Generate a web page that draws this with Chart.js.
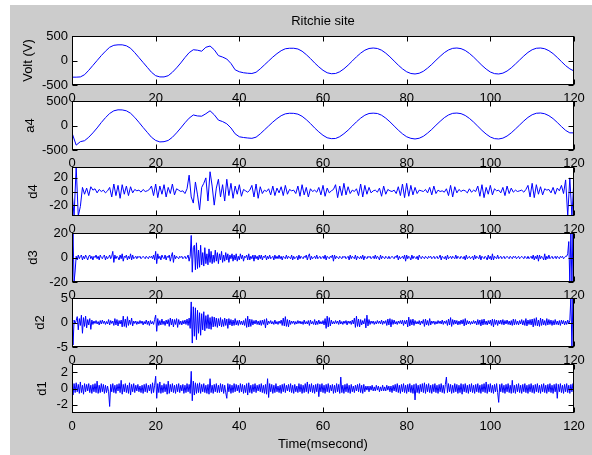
<!DOCTYPE html>
<html>
<head>
<meta charset="utf-8">
<script src="https://cdn.jsdelivr.net/npm/chart.js@4/dist/chart.umd.min.js"></script>
<style>
  body { margin: 0; background: #fff; width: 592px; height: 455px; overflow: hidden; position: relative; }
  #fig { position: absolute; left: 10px; top: 5px; width: 582px; height: 450px; background: #cccccc; }
  canvas { position: absolute; left: 10px; }
</style>
</head>
<body>
<div id="fig"></div>
<canvas id="c1" width="582" height="101" style="top:8px"></canvas>
<canvas id="c2" width="582" height="81" style="top:93px"></canvas>
<canvas id="c3" width="582" height="81" style="top:159px"></canvas>
<canvas id="c4" width="582" height="81" style="top:225px"></canvas>
<canvas id="c5" width="582" height="81" style="top:290px"></canvas>
<canvas id="c6" width="582" height="99" style="top:356px"></canvas>
<script>
// --- Datos ---
const xTicks = [0, 20, 40, 60, 80, 100, 120];

// muestreo (ms) de cada serie
const stepSine = 1;
const stepD4 = 0.5;
const stepFine = 0.25;

const voltValues = [
  -340, -340, -335, -290, -200, -100, 0, 100, 190, 270,
  310, 320, 320, 300, 250, 160, 60, -40, -140, -240,
  -310, -335, -335, -310, -240, -150, -50, 60, 160, 220,
  210, 190, 270, 295, 220, 100, 70, 30, -60, -190,
  -230, -250, -260, -265, -240, -170, -90, -10, 70, 140,
  200, 240, 250, 250, 235, 190, 120, 40, -50, -130,
  -200, -250, -270, -265, -230, -170, -95, -10, 75, 150,
  210, 245, 255, 245, 210, 150, 75, -10, -95, -170,
  -230, -265, -275, -260, -220, -155, -80, 5, 85, 160,
  215, 248, 255, 242, 205, 145, 70, -15, -100, -175,
  -235, -268, -275, -258, -215, -150, -72, 10, 92, 165,
  220, 250, 255, 240, 200, 140, 62, -22, -105, -170,
  -215
];

const a4Values = [
  -150, -400, -330, -310, -240, -150, -50, 60, 160, 245,
  300, 320, 318, 300, 250, 165, 65, -40, -140, -240,
  -305, -335, -330, -305, -240, -150, -50, 55, 150, 215,
  195, 190, 240, 300, 220, 110, 80, 35, -50, -170,
  -230, -245, -255, -262, -238, -170, -90, -10, 70, 140,
  200, 238, 250, 248, 232, 188, 120, 40, -50, -130,
  -200, -250, -268, -265, -228, -168, -95, -10, 75, 150,
  210, 245, 252, 245, 210, 150, 75, -10, -95, -170,
  -230, -262, -275, -260, -220, -155, -80, 5, 85, 160,
  215, 248, 254, 242, 205, 145, 70, -15, -100, -175,
  -235, -268, -275, -258, -215, -150, -72, 10, 92, 165,
  220, 250, 255, 240, 200, 140, 62, -22, -100, -150,
  -150
];

const d4Values = [
  0, -36, 36, -36, -22, 6, -4, 5, -6, 7,
  2, 4, -2, 3, 0, 2, -2, 1, 6, -8,
  11, -6, 9, -10, 10, -4, 8, -6, 7, -2,
  3, 1, 2, -1, 3, 0, 1, 3, 8, -6,
  11, -9, 8, -4, 10, -8, 6, -3, 11, -5,
  4, 2, 0, 1, -3, 4, 24, -8, -17, 14,
  -5, -27, 6, 12, 20, -14, 29, 8, -20, 5,
  18, -8, 10, -14, 18, -6, 12, -10, 8, -4,
  10, -7, 3, 1, -1, 2, 9, -8, 11, -10,
  7, -3, 2, 0, 4, -5, 8, -6, 5, -2,
  7, -6, 9, -4, 3, 1, 2, -3, 8, -7,
  10, -5, 6, -8, 4, 0, 2, -1, 6, -5,
  9, -7, 5, -2, 1, 3, 10, -9, 8, -6,
  12, -5, 7, -3, 2, 0, 4, -6, 11, -8,
  9, -4, 6, -2, 1, 2, -1, 5, -7, 8,
  -4, 3, 1, 0, 2, -3, 7, -6, 11, -9,
  12, -7, 9, -5, 6, -3, 2, 1, 0, 3,
  -2, 6, -5, 8, -3, 2, 0, 1, -1, 4,
  -6, 9, -8, 7, -2, 3, 0, 2, 1, -2,
  4, -1, 2, 0, 8, -7, 10, -9, 6, -4,
  9, -5, 4, 1, 2, -2, 6, -6, 8, -3,
  5, -1, 2, 0, 1, 2, -1, 3, 9, -8,
  12, -9, 10, -4, 7, -5, 4, 2, 3, -2,
  6, -4, 5, 1, 9, -3, 17, -36, 20, -36,
  20
];

const d3Values = [
  0, 20, -20, -11, 1, -2, 2, -1, 1, 2, -2, 1, -1, 2, 0, -2, 1, 2, -1, 1,
  -2, 1, 0, 2, -1, 1, -2, 2, 0, -1, 1, 2, -2, 1, -1, 0, 2, -1, 1, 5,
  -4, 2, -1, 1, 0, -2, 2, -1, 3, -3, 1, 0, 2, -2, 1, -1, 3, -2, 2, -1,
  0, 1, -1, 1, 0, 1, -1, 0, 1, 0, -1, 1, 0, -1, 1, 0, 1, -1, 2, -2,
  5, -5, 3, -1, 1, -2, 2, 0, -1, 2, -2, 1, 0, 2, -3, 1, 4, -4, 2, -1,
  1, 0, -1, 1, 0, 1, -1, 0, 1, -1, 0, 2, -3, 1, 18, -12, 8, 10, -10, 12,
  -9, 6, -8, 10, -6, 4, -7, 8, -5, 3, -6, 7, -4, 5, -5, 2, -4, 6, -3, 4,
  -5, 3, -2, 5, -4, 2, -3, 4, -2, 3, -4, 2, -1, 3, -3, 2, -2, 3, -3, 1,
  -2, 3, -1, 2, -3, 1, 0, 2, -2, 3, -2, 1, -1, 2, -3, 2, -1, 1, -2, 2,
  -1, 2, -2, 1, 0, 2, -2, 1, -1, 2, -1, 0, 1, -2, 2, -1, 1, -1, 2, -1,
  1, -2, 1, 0, -1, 2, -1, 1, 0, -1, 2, -2, 1, -1, 0, 1, -2, 2, -1, 1,
  0, -1, 1, 0, 2, -2, 1, 3, -2, 1, -1, 0, 1, -1, 2, -1, 0, 1, -1, 0,
  1, -1, 2, -2, 1, 0, -1, 1, 0, 2, -3, 2, -1, 1, 0, -1, 1, 0, -1, 1,
  0, 1, -1, 0, 1, -2, 2, -1, 1, 0, -1, 2, -2, 1, 0, -1, 1, -1, 2, -2,
  1, 0, -1, 1, 0, 1, -1, 0, 1, -1, 2, -1, 1, 0, -2, 2, -1, 1, 0, -1,
  1, 0, -1, 1, -1, 0, 1, 0, -1, 1, 0, 2, -2, 1, -1, 0, 1, -1, 2, -3,
  2, -1, 1, 0, -2, 2, -1, 1, 0, -1, 1, -2, 2, 0, -1, 1, 0, -1, 1, 0,
  -1, 1, 0, 1, -1, 0, 1, -1, 0, 1, -1, 0, 2, -2, 1, 0, -1, 1, -2, 2,
  -1, 0, 1, -1, 1, 0, -1, 2, -1, 1, 0, -1, 1, 0, -1, 1, -2, 2, -1, 0,
  1, -1, 0, 1, -2, 2, -1, 1, 0, -1, 2, -2, 1, 0, -1, 1, 0, -2, 2, -1,
  1, -2, 3, -2, 1, 0, -1, 2, -1, 0, 1, -1, 0, 1, -1, 0, 1, 0, -1, 1,
  0, -1, 1, 0, 1, -1, 0, 1, -1, 0, 1, 0, -1, 1, 0, -1, 1, -1, 0, 1,
  -1, 2, -2, 1, -1, 2, -3, 2, -1, 1, 0, -2, 3, -2, 1, -1, 2, -1, 0, 1,
  -1, 0, 1, -1, 1, 0, -1, 1, 0, 1, -1, 0, 1, 1, 3, 13, -20, 20, -20, 20,
  -20
];

const d2Values = [
  5, -4.6, 0.5, -0.3, 0.4, 1.2, -1.5, 0.8, -0.6, 1.5, -2.2, 1.0, -0.8, 1.3, -1.1, 0.6, -0.5, 0.8, -1.4, 0.5,
  -0.4, 0.3, -0.2, 0.4, -0.3, 0.2, -0.5, 0.4, -0.3, 0.5, -0.2, 0.3, -0.4, 0.2, -0.3, 0.6, -0.5, 0.4, -0.2, 0.3,
  -0.6, 0.8, -0.5, 0.6, -0.7, 0.4, -0.3, 0.5, -0.9, 1.3, -0.8, 0.7, -1.0, 1.2, -0.6, 0.5, -0.4, 0.9, -0.7, 0.3,
  -0.2, 0.3, -0.4, 0.2, -0.3, 0.4, -0.2, 0.3, -0.5, 0.2, -0.3, 0.5, -0.4, 0.3, -0.6, 0.4, -0.3, 0.2, -0.4, 0.6,
  1.5, -1.8, 0.8, -0.6, 0.4, -0.5, 0.7, -0.4, 0.3, -0.6, 0.5, -0.3, 0.6, -0.8, 0.9, -0.5, 0.7, -0.9, 0.6, -0.4,
  0.8, -1.0, 0.6, -0.4, 0.3, -0.5, 0.4, -0.3, 0.5, -0.4, 0.7, -0.6, 0.9, -1.2, 4.2, -4.2, 3.2, -2.8, 3.0, -3.5,
  2.5, -2.2, 2.0, -2.6, 1.8, -1.5, 2.2, -1.7, 1.4, -1.2, 1.6, -1.3, 1.0, -1.4, 1.2, -0.9, 1.1, -0.8, 0.9, -1.0,
  0.8, -0.7, 1.0, -0.9, 0.6, -0.8, 0.9, -0.6, 0.7, -1.2, 0.8, -0.5, 0.6, -0.7, 0.5, -0.6, 0.8, -0.5, 0.4, -0.6,
  0.5, -0.4, 0.3, -0.5, 0.4, -0.6, 0.8, -1.0, 1.3, -0.9, 0.7, -0.8, 0.6, -0.5, 0.4, -0.3, 0.5, -0.4, 0.3, -0.5,
  0.4, -0.6, 0.5, -0.4, 0.6, -1.1, 0.8, -0.5, 0.3, -0.2, 0.4, -0.3, 0.2, -0.4, 0.5, -0.3, 0.2, -0.4, 0.3, -0.2,
  0.5, -0.6, 0.9, -0.7, 1.2, -0.8, 0.6, -0.9, 0.5, -0.4, 0.3, -0.2, 0.3, -0.4, 0.2, -0.3, 0.4, -0.2, 0.3, -0.3,
  0.2, -0.4, 0.5, -0.3, 0.2, -0.3, 0.4, -0.6, 0.5, -0.3, 0.2, -0.4, 0.6, -0.5, 0.3, -0.4, 0.5, -0.3, 0.2, -0.3,
  0.4, -0.5, 0.8, -1.2, 1.3, -0.9, 1.0, -0.7, 0.5, -0.3, 0.2, -0.3, 0.4, -0.2, 0.3, -0.4, 0.5, -0.3, 0.2, -0.4,
  0.3, -0.2, 0.4, -0.5, 0.3, -0.2, 0.3, -0.4, 0.5, -0.3, 0.9, -1.0, 1.3, -0.8, 0.7, -0.9, 0.6, -0.5, 0.4, -0.3,
  0.8, -1.1, 1.5, -0.7, 0.6, -0.4, 0.3, -0.2, 0.3, -0.4, 0.2, -0.3, 0.4, -0.2, 0.3, -0.3, 0.5, -0.4, 0.3, -0.2,
  0.4, -0.6, 0.7, -0.5, 0.8, -0.9, 0.6, -0.4, 0.5, -0.3, 0.2, -0.4, 0.3, -0.2, 0.4, -0.3, 0.5, -0.6, 0.4, -0.3,
  0.5, -0.9, 1.1, -0.7, 0.6, -0.5, 0.7, -0.6, 0.4, -0.3, 0.2, -0.3, 0.4, -0.5, 0.3, -0.2, 0.6, -0.8, 0.7, -0.5,
  0.4, -0.6, 0.8, -0.5, 0.3, -0.2, 0.3, -0.4, 0.2, -0.3, 0.4, -0.2, 0.3, -0.3, 0.5, -0.4, 0.3, -0.2, 0.4, -0.6,
  0.7, -0.5, 1.0, -0.8, 0.6, -0.4, 0.5, -0.3, 0.4, -0.5, 0.3, -0.4, 0.5, -0.3, 0.6, -0.7, 0.8, -0.5, 0.4, -0.3,
  0.3, -0.4, 0.2, -0.3, 0.4, -0.2, 0.3, -0.5, 0.6, -0.4, 0.5, -0.7, 0.6, -0.5, 0.7, -0.4, 0.3, -0.5, 0.4, -0.3,
  0.5, -0.6, 0.7, -0.9, 0.6, -0.4, 0.5, -0.6, 0.4, -0.3, 0.5, -0.4, 0.6, -0.5, 0.4, -0.3, 0.5, -0.4, 0.3, -0.5,
  0.4, -0.6, 0.7, -0.5, 0.6, -0.4, 0.3, -0.5, 0.4, -0.3, 0.6, -0.5, 0.4, -0.6, 0.8, -0.7, 0.5, -0.4, 0.6, -0.5,
  0.7, -0.9, 0.8, -0.6, 1.0, -0.7, 0.5, -0.8, 0.9, -0.6, 0.7, -0.5, 0.4, -0.6, 0.8, -0.5, 0.6, -0.4, 0.5, -0.6,
  0.4, -0.5, 0.6, -0.4, 0.3, -0.5, 0.4, -0.6, 0.5, -0.3, 0.4, -0.5, 0.3, -0.4, 0.5, -0.3, 0.4, 5, -5, 5,
  -5
];

const d1Values = [
  2.2, -0.8, 0.6, -0.5, 0.7, -0.4, 0.5, -0.6, 0.8, -0.5, 0.4, -0.7, 0.6, -0.4, 0.5, -0.3, 0.6, -0.5, 0.4, -0.6,
  0.5, -0.4, 0.6, -0.5, 0.9, -0.6, 0.4, -0.5, 0.6, -0.4, 0.5, -0.6, 0.4, -0.5, 0.3, -0.4, -2.2, 0.5, -0.4, 0.6,
  -0.5, 0.4, -0.6, 0.5, -0.3, 0.6, -0.5, 1.0, -0.7, 0.5, -0.4, 0.6, -0.5, 0.4, -0.6, 0.7, -0.8, 0.5, -0.4, 0.6,
  -0.5, 0.4, -0.3, 0.5, -0.4, 0.3, -0.5, 0.4, -0.6, 0.5, -0.4, 0.6, -0.5, 0.4, -0.3, 0.5, -0.6, 0.7, -0.5, 0.4,
  1.5, -1.2, 0.6, -0.5, 0.8, -0.6, 0.4, -0.5, 0.6, -0.4, 0.5, -0.7, 0.9, -0.6, 0.5, -0.4, 0.6, -0.5, 0.4, -0.6,
  0.5, -0.4, 0.6, -0.5, 0.4, -0.3, 0.5, -0.6, 0.4, -0.5, 0.6, -0.4, 0.5, -0.6, 2.1, -1.5, 0.9, -0.8, 0.7, -0.6,
  0.6, -0.5, 0.7, -0.6, 0.5, -0.4, 0.6, -0.5, 0.4, -0.6, 0.5, -0.7, 1.2, -0.5, 0.4, -0.6, 0.5, -0.4, 0.6, -0.5,
  0.4, -0.5, 0.6, -0.4, 0.5, -0.6, 0.4, -0.5, -1.2, 0.6, -0.4, 0.5, -0.6, 0.4, -0.5, 0.6, -0.4, 0.5, -0.3, 0.4,
  -0.5, 0.6, -0.4, 0.5, -0.6, 0.4, -0.5, 0.6, -0.8, 0.7, -0.5, 0.4, -0.6, 0.5, -0.4, 0.6, -0.5, 0.4, -0.3, 0.5,
  -0.4, 0.6, -0.5, 0.4, -0.6, 0.5, -0.7, 1.2, -1.1, 0.6, -0.4, 0.5, -0.6, 0.4, -0.5, 0.6, -0.4, 0.3, -0.5, 0.4,
  -0.6, 0.5, -0.4, 0.6, -0.5, 0.4, -0.3, 0.5, -0.4, 0.6, -0.5, 0.4, -0.6, 0.5, -0.4, 0.3, -0.5, 0.6, -0.4, 0.5,
  -0.6, 0.4, -0.5, 0.6, -0.4, 0.8, -0.6, 0.5, -0.4, 0.6, -0.5, 0.4, -0.6, 0.5, -0.4, 0.6, -1.0, 0.5, -0.4, 0.6,
  -0.5, 0.4, -0.6, 0.5, -0.4, 0.6, -0.5, 0.4, -0.3, 0.5, -0.6, 0.4, -0.5, 0.6, -0.4, 0.5, -0.6, 1.4, -0.5, 0.4,
  -0.6, 0.5, -0.4, 0.6, -0.5, 0.4, -0.6, 0.5, -0.4, 0.3, -0.5, 0.4, -0.3, 0.5, -0.4, 0.6, -0.5, 0.4, -0.6, 0.5,
  -0.4, 0.3, -0.2, 0.3, -0.4, 0.3, -0.2, 0.4, -0.3, 0.2, -0.3, 0.4, -0.2, 0.3, -0.4, 0.2, -0.3, 0.4, -0.3, 0.2,
  -0.3, 0.4, -0.2, 0.3, -0.4, 0.3, -0.5, 0.4, -0.3, 0.5, -0.4, 0.6, -0.5, 0.4, -0.6, 0.5, -0.4, 0.6, -0.5, 0.4,
  -0.6, 0.5, -0.4, 0.6, -0.5, 0.4, -0.6, 0.5, -1.4, 0.6, -0.5, 0.4, -0.6, 0.5, -0.4, 0.6, -0.5, 0.7, -0.6, 0.5,
  -0.4, 0.6, -0.5, 0.4, -0.6, 0.5, -0.4, 0.6, -0.5, 0.4, -0.6, 0.5, -0.4, 0.6, -0.5, 0.4, -0.6, 0.5, 1.4, -0.5,
  0.6, -0.4, 0.5, -0.6, 0.4, -0.5, 0.6, -0.4, 0.5, -0.6, 0.4, -0.5, 0.6, -0.7, 0.5, -0.4, 0.6, -0.5, 0.4, -0.6,
  0.5, -0.4, 0.6, -0.5, 0.4, -0.6, 0.5, -0.4, 0.6, -0.5, 0.4, -0.6, 0.5, -0.4, 0.6, -0.5, 0.8, -0.6, 0.5, -0.4,
  0.6, -0.5, 0.4, -0.6, 0.5, -0.4, 0.6, -0.5, -1.7, 0.5, -0.4, 0.6, -0.5, 0.4, -0.6, 0.5, -0.4, 0.6, -0.5, 0.4,
  -0.6, 1.0, -0.5, 0.4, -0.6, 0.5, -0.4, 0.6, -0.5, 0.4, -0.6, 0.5, -0.4, 0.6, -0.5, 0.4, -0.6, 0.5, -0.4, 0.6,
  -0.5, 0.4, -0.6, 0.5, -0.4, 0.6, -0.5, 0.4, -0.6, 0.5, -0.4, 0.6, -0.5, 0.4, -0.6, 0.5, -0.4, 0.6, -0.5, 0.4,
  -0.6, 0.5, -0.4, 0.6, -1.2, 0.5, -0.4, 0.6, -0.5, 0.4, -0.6, 0.5, -0.4, 0.6, -0.5, 0.4, -0.6, 0.5, -0.4, 0.6,
  -0.5
];

// etiquetas y ticks de cada eje Y
const yLabels = ['Volt (V)', 'a4', 'd4', 'd3', 'd2', 'd1'];
const yTickSets = [[-500, 0, 500], [-500, 0, 500], [-20, 0, 20], [-20, 0, 20], [-5, 0, 5], [-2, 0, 2]];
const yLimits = [[-500, 500], [-500, 500], [-36, 36], [-20, 20], [-5, 5], [-3, 3]];

// --- Estilo ---
const FONT = { family: "Arial, 'Liberation Sans', Helvetica, sans-serif", size: 13 };
const TICK_LEN = 5;

// fondo blanco, caja completa y ticks hacia dentro (estilo MATLAB)
const boxPlugin = {
  id: 'matlabBox',
  beforeDraw(chart) {
    const { ctx, chartArea: a } = chart;
    ctx.save();
    ctx.fillStyle = '#fff';
    ctx.fillRect(a.left, a.top, a.right - a.left, a.bottom - a.top);
    ctx.restore();
  },
  afterDatasetsDraw(chart) {
    const { ctx, chartArea: a, scales } = chart;
    const L = Math.round(a.left) + 0.5, R = Math.round(a.right) - 0.5;
    const T = Math.round(a.top) + 0.5, B = Math.round(a.bottom) - 0.5;
    ctx.save();
    ctx.strokeStyle = '#000';
    ctx.lineWidth = 1;
    ctx.beginPath();
    scales.x.ticks.forEach(t => {
      const px = Math.round(scales.x.getPixelForValue(t.value)) + 0.5;
      ctx.moveTo(px, B); ctx.lineTo(px, B - TICK_LEN);
      ctx.moveTo(px, T); ctx.lineTo(px, T + TICK_LEN);
    });
    scales.y.ticks.forEach(t => {
      const py = Math.round(scales.y.getPixelForValue(t.value)) + 0.5;
      ctx.moveTo(L, py); ctx.lineTo(L + TICK_LEN, py);
      ctx.moveTo(R, py); ctx.lineTo(R - TICK_LEN, py);
    });
    ctx.stroke();
    ctx.strokeRect(L, T, R - L, B - T);
    ctx.restore();
  }
};

const toPoints = (values, step) => values.map((v, i) => ({ x: i * step, y: v }));

// Crea un panel (subplot)
const createPanel = (canvasId, idx, values, step, opts) => {
  const ctx = document.getElementById(canvasId).getContext('2d');
  const isFirst = idx === 0;
  const isLast = idx === 5;
  return new Chart(ctx, {
    type: 'line',
    data: {
      datasets: [{
        data: toPoints(values, step),
        borderColor: '#0000ff',
        borderWidth: 1,
        pointRadius: 0,
        tension: 0,
        fill: false
      }]
    },
    options: {
      responsive: false,
      animation: false,
      events: [],
      layout: { padding: { top: isFirst ? 0 : 8, right: 18, left: 0, bottom: 0 } },
      plugins: {
        legend: { display: false },
        tooltip: { enabled: false },
        title: {
          display: isFirst,
          text: 'Ritchie site',
          color: '#000',
          font: { ...FONT, weight: 'normal' },
          fullSize: false,
          padding: { top: 6, bottom: 6.4 }
        }
      },
      scales: {
        x: {
          type: 'linear',
          min: 0,
          max: 120,
          afterBuildTicks: s => { s.ticks = xTicks.map(v => ({ value: v })); },
          afterFit: s => { s.height = isLast ? 42 : 24; s.paddingLeft = 0; s.paddingRight = 0; },
          grid: { display: false, drawTicks: false },
          border: { display: false },
          ticks: { color: '#000', font: FONT, padding: 6, autoSkip: false, maxRotation: 0, callback: v => String(v) },
          title: {
            display: isLast,
            text: 'Time(msecond)',
            color: '#000',
            font: FONT,
            padding: { top: 0, bottom: 3 }
          }
        },
        y: {
          min: yLimits[idx][0],
          max: yLimits[idx][1],
          afterBuildTicks: s => { s.ticks = yTickSets[idx].map(v => ({ value: v })); },
          afterFit: s => { s.width = 62; s.paddingTop = 0; s.paddingBottom = 0; },
          grid: { display: false, drawTicks: false },
          border: { display: false },
          ticks: { color: '#000', font: FONT, padding: 4, autoSkip: false, callback: v => String(v) },
          title: {
            display: true,
            text: yLabels[idx],
            color: '#000',
            font: FONT,
            padding: { top: opts.labelPad, bottom: 0 }
          }
        }
      }
    },
    plugins: [boxPlugin]
  });
};

// --- Dibujo ---
createPanel('c1', 0, voltValues, stepSine, { labelPad: 10.8 });
createPanel('c2', 1, a4Values, stepSine, { labelPad: 12.3 });
createPanel('c3', 2, d4Values, stepD4, { labelPad: 15.3 });
createPanel('c4', 3, d3Values, stepFine, { labelPad: 15.3 });
createPanel('c5', 4, d2Values, stepFine, { labelPad: 22.8 });
createPanel('c6', 5, d1Values, stepFine, { labelPad: 24.8 });
</script>
</body>
</html>
